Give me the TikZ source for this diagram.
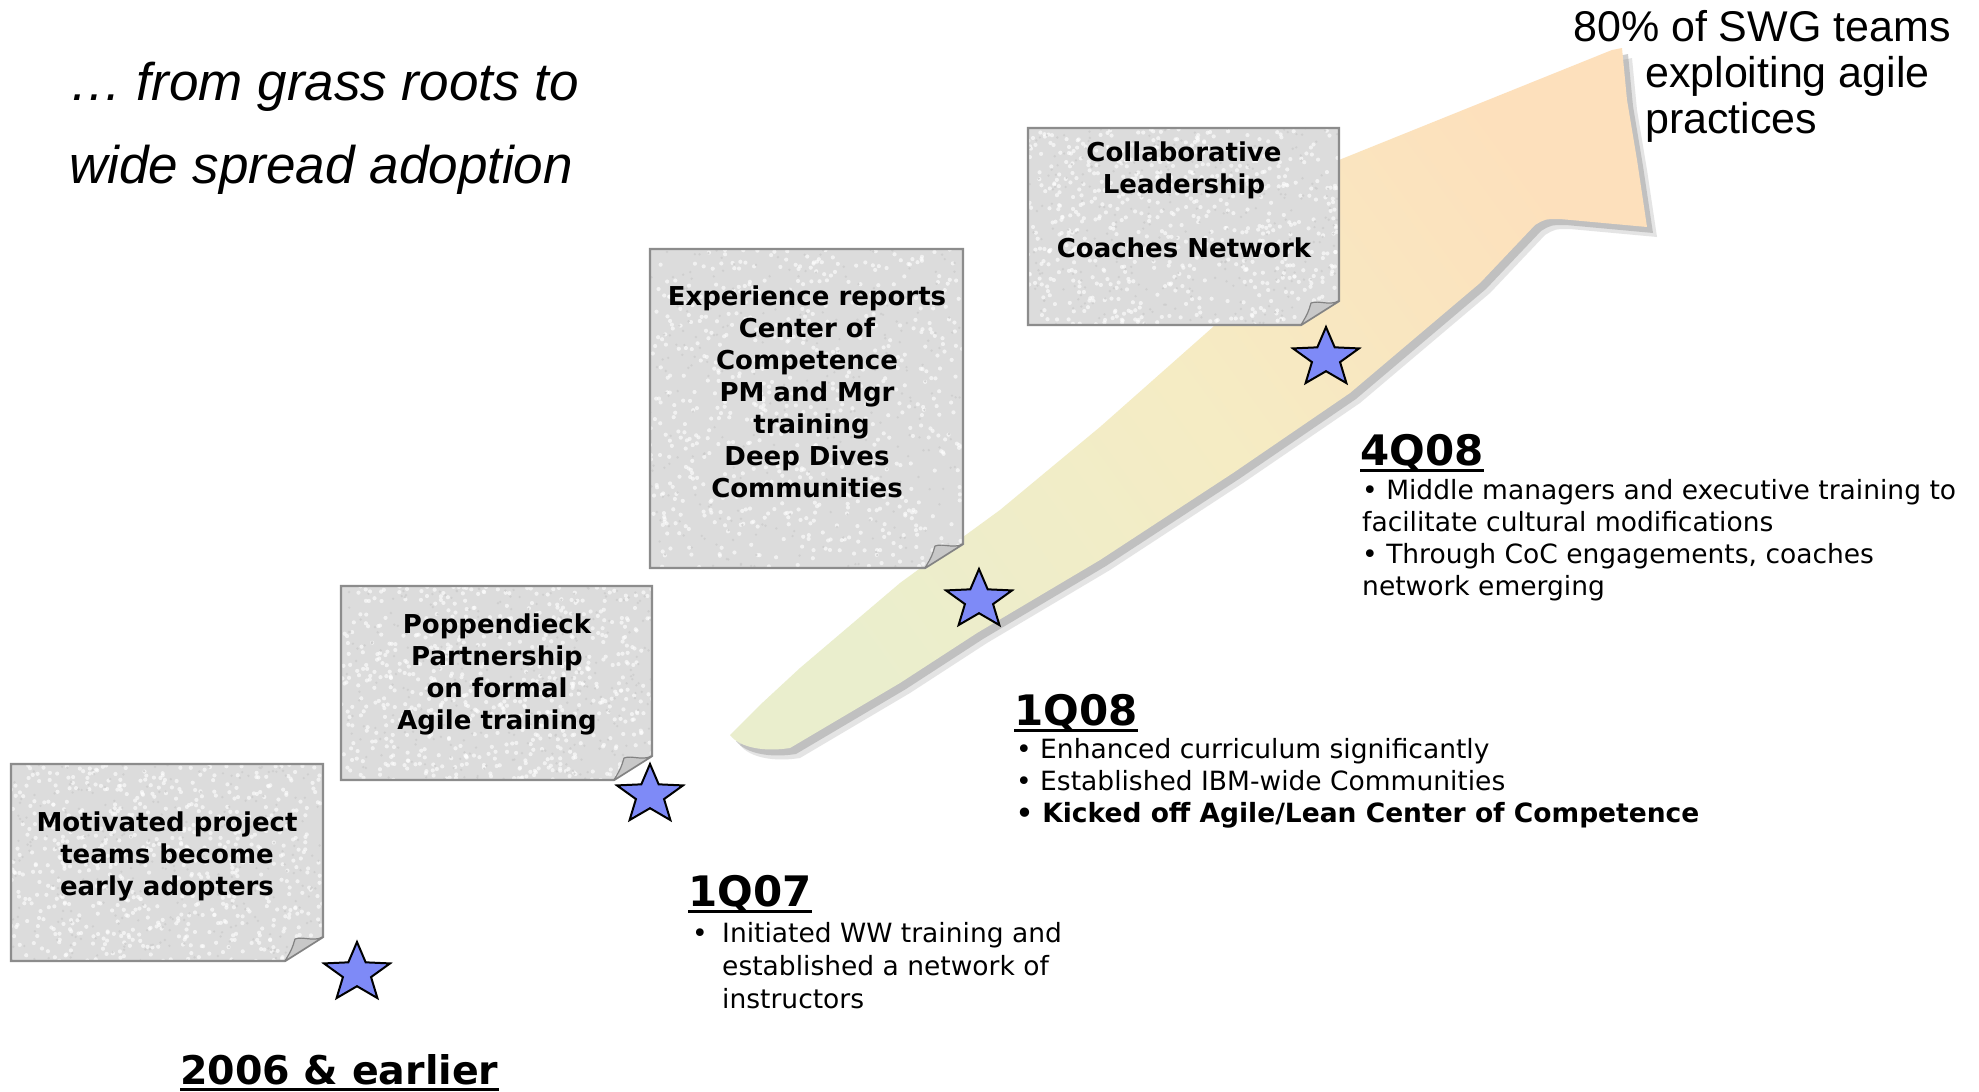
\documentclass[tikz,border=0pt]{standalone}
\usepackage{fontspec}
\setmainfont{DejaVu Sans}
\newfontfamily\arialf{Liberation Sans}
\usetikzlibrary{shapes.geometric}
\definecolor{starblue}{RGB}{126,138,247}
\definecolor{boxgray}{RGB}{220,220,220}
\definecolor{boxline}{RGB}{140,140,140}
\definecolor{curlgray}{RGB}{200,200,200}
\definecolor{curlline}{RGB}{130,130,130}
\definecolor{tailc}{RGB}{234,238,205}
\definecolor{midc}{RGB}{245,236,196}
\definecolor{headc}{RGB}{253,224,188}
\definecolor{shadowgray}{RGB}{150,150,150}

\newcommand\notebox[4]{%
  \fill[boxgray] (#1,#2) -- (#3,#2) -- (#3,#4-24) -- (#3-38,#4) -- (#1,#4) -- cycle;
  \begin{scope}
    \clip (#1,#2) -- (#3,#2) -- (#3,#4-24) -- (#3-38,#4) -- (#1,#4) -- cycle;
    \foreach \i in {1,...,650}{\fill[white,opacity=0.6] ({#1+rnd*(#3-#1)},{#2+rnd*(#4-#2)}) circle (2.1);}
    \foreach \i in {1,...,300}{\fill[gray!40,opacity=0.8] ({#1+rnd*(#3-#1)},{#2+rnd*(#4-#2)}) circle (1.3);}
  \end{scope}
  \draw[boxline,line width=2.2pt] (#1,#2) -- (#3,#2) -- (#3,#4-24) -- (#3-38,#4) -- (#1,#4) -- cycle;
  \draw[curlline,fill=curlgray,line width=1.2pt,line join=round]
    (#3,#4-24) .. controls (#3-10,#4-19) and (#3-20,#4-25) .. (#3-28,#4-22)
    .. controls (#3-31,#4-12) .. (#3-38,#4) -- cycle;
}

\newcommand\arrowshape[1]{%
  \path[#1] (730,735) -- (760,705) -- (800,668) -- (900,583) -- (1000,510) -- (1100,427)
    -- (1213,327) -- (1339,160) -- (1612,50) -- (1622,48) -- (1627,100) -- (1637,160)
    -- (1647,227) -- (1560,219) .. controls (1545,219) .. (1535,225)
    -- (1480,283) -- (1350,393) -- (1233,473) -- (1100,560) -- (977,633) -- (900,683)
    -- (790,748) .. controls (765,752) and (740,748) .. cycle;
}

\begin{document}
\begin{tikzpicture}[x=1pt,y=-1pt,
  startag/.style={star,star points=5,star point ratio=2.35,minimum size=62pt,inner sep=0pt,
    fill=starblue,draw=black,line width=2pt},
  notetext/.style={anchor=north,align=center,inner sep=0pt,
    font=\fontsize{26}{32}\selectfont\bfseries},
  body/.style={anchor=base west,inner sep=0pt,font=\fontsize{26.5}{32}\selectfont},
  head/.style={anchor=base west,inner sep=0pt,font=\fontsize{42}{48}\selectfont\bfseries},
  uline/.style={line width=3pt},
  titletext/.style={anchor=base west,inner sep=0pt,font=\arialf\itshape\fontsize{53}{60}\selectfont},
  goaltext/.style={anchor=base west,inner sep=0pt,font=\arialf\fontsize{43}{48}\selectfont},
]
\useasboundingbox (0,0) rectangle (1979,1092);
\fill[white] (0,0) rectangle (1979,1092);

% rising arrow with soft shadow
\arrowshape{fill=shadowgray,opacity=0.25,shift={(10,10)}}
\arrowshape{fill=shadowgray,opacity=0.45,shift={(6,6)}}
\arrowshape{top color=headc,bottom color=tailc,middle color=midc,shading angle=-54}

% sticky notes
\pgfmathsetseed{7}
\notebox{11}{764}{323}{961}
\notebox{341}{586}{652}{780}
\notebox{650}{249}{963}{568}
\notebox{1028}{128}{1339}{325}

\node[notetext] (nA) at (167,812) {Motivated project\\teams become\\early adopters};
\node[notetext] (nB) at (497,614) {Poppendieck\\Partnership\\on formal\\Agile training};
\node[notetext] (nC) at (807,286) {Experience reports\\Center of\\Competence\\PM and Mgr\\\ training\\Deep Dives\\Communities};
\node[notetext] (nD) at (1184,142) {Collaborative\\Leadership\\[32pt]Coaches Network};

% stars
\begin{scope}[shift={(357,973)},xscale=1.12]\node[startag,transform shape] (s1) at (0,0) {};\end{scope}
\begin{scope}[shift={(650,795)},xscale=1.12]\node[startag,transform shape] (s2) at (0,0) {};\end{scope}
\begin{scope}[shift={(979,600)},xscale=1.12]\node[startag,transform shape] (s3) at (0,0) {};\end{scope}
\begin{scope}[shift={(1326,358)},xscale=1.12]\node[startag,transform shape] (s4) at (0,0) {};\end{scope}

% title
\node[titletext] (ti1) at (69,100) {… from grass roots to};
\node[titletext] (ti2) at (69,183) {wide spread adoption};

% goal
\node[goaltext] (g1) at (1573,41) {80\% of SWG teams};
\node[goaltext] (g2) at (1645,87) {exploiting agile};
\node[goaltext] (g3) at (1645,133) {practices};

% 2006
\node[head,font=\fontsize{39.5}{46}\selectfont\bfseries] (h0) at (180,1084) {2006 \& earlier};
\draw[uline] ([yshift=-5pt]h0.base west) -- ([yshift=-5pt]h0.base east);

% 1Q07
\node[head] (h1) at (688,906) {1Q07};
\draw[uline] ([yshift=-5pt]h1.base west) -- ([yshift=-5pt]h1.base east);
\node[body] (b1) at (692,942) {•};
\node[body] (t1a) at (722,942) {Initiated WW training and};
\node[body] (t1b) at (722,975) {established a network of};
\node[body] (t1c) at (722,1008) {instructors};

% 1Q08
\node[head] (h2) at (1014,725) {1Q08};
\draw[uline] ([yshift=-5pt]h2.base west) -- ([yshift=-5pt]h2.base east);
\node[body] (t2a) at (1016,758) {• Enhanced curriculum significantly};
\node[body] (t2b) at (1016,790) {• Established IBM-wide Communities};
\node[body,font=\fontsize{26.5}{32}\selectfont\bfseries] (t2c) at (1016,822) {• Kicked off Agile/Lean Center of Competence};

% 4Q08
\node[head] (h3) at (1360,465) {4Q08};
\draw[uline] ([yshift=-5pt]h3.base west) -- ([yshift=-5pt]h3.base east);
\node[body] (t3a) at (1362,499) {• Middle managers and executive training to};
\node[body] (t3b) at (1362,531) {facilitate cultural modifications};
\node[body] (t3c) at (1362,563) {• Through CoC engagements, coaches};
\node[body] (t3d) at (1362,595) {network emerging};
\end{tikzpicture}
\end{document}
